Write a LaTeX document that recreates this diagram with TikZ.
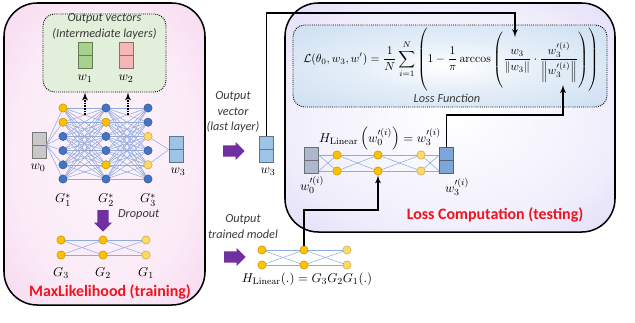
\documentclass[tikz,border=0pt]{standalone}
\usepackage{amsmath}
\usepackage[no-math]{fontspec}
\setmainfont{Carlito}
\usetikzlibrary{arrows,positioning,shapes.arrows}

\definecolor{nodeorange}{HTML}{FFC000}
\definecolor{nodeblue}{HTML}{4472C4}
\definecolor{nodeyellow}{HTML}{FFD966}
\definecolor{edgeblue}{HTML}{8FAADC}
\definecolor{pinkpanel}{HTML}{F3C6E8}
\definecolor{lilacpanel}{HTML}{CFC6F3}
\definecolor{lossblue}{HTML}{BDD5EE}
\definecolor{greenbox}{HTML}{E2EFDA}
\definecolor{vecgreen}{HTML}{A9D18E}
\definecolor{vecred}{HTML}{F4B6B6}
\definecolor{vecgray}{HTML}{C8C8C8}
\definecolor{vecslate}{HTML}{ADB9CA}
\definecolor{vecblue}{HTML}{9DC3E6}
\definecolor{vecdeep}{HTML}{7FA6D8}
\definecolor{dropviolet}{HTML}{7030A0}
\definecolor{notegray}{HTML}{3A3A3A}
\definecolor{titlered}{HTML}{F0141E}

\pgfdeclareradialshading{pinkglow}{\pgfpoint{0bp}{0bp}}{color(0bp)=(white!80!pinkpanel); color(22bp)=(white!65!pinkpanel); color(50bp)=(pinkpanel); color(71bp)=(pinkpanel)}
\pgfdeclareradialshading{lilacglow}{\pgfpoint{0bp}{0bp}}{color(0bp)=(white); color(25bp)=(white!70!lilacpanel); color(50bp)=(lilacpanel); color(71bp)=(lilacpanel)}
\pgfdeclareradialshading{blueglow}{\pgfpoint{0bp}{0bp}}{color(0bp)=(white); color(15bp)=(white!60!lossblue); color(50bp)=(lossblue); color(71bp)=(lossblue)}

\begin{document}
\begin{tikzpicture}[x=0.03cm, y=-0.03cm]
\tikzset{
   panel/.style={rectangle, rounded corners=1cm, draw=black, line width=1.3pt, inner sep=0pt},
   dotbox/.style={rectangle, rounded corners=0.35cm, draw=black, densely dotted, thick, inner sep=0pt},
   neuron/.style={circle, draw=#1!75!black, fill=#1, inner sep=0pt, minimum size=0.25cm},
   synapse/.style={draw=edgeblue, line width=0.45pt},
   vecbox/.style={rectangle, draw=#1!60!black, fill=#1, inner sep=0pt, minimum width=0.42cm, minimum height=0.78cm},
   notetext/.style={font=\fontsize{10.5}{13.2}\selectfont\itshape, text=notegray, align=center},
   veclabel/.style={font=\fontsize{11}{13}\selectfont},
   boxtitle/.style={font=\fontsize{13.6}{16}\selectfont\bfseries, text=titlered},
   fatarrow/.style={single arrow, draw=none, fill=dropviolet, minimum height=0.65cm, inner xsep=0pt, inner ysep=0.165cm, single arrow head extend=0.1cm},
   link/.style={->, >=latex', line width=1.3pt, black},
}
\useasboundingbox (0,0) rectangle (635,322);

% the two big panels
\node[panel, minimum width=6.03cm, minimum height=9.06cm, shading=pinkglow] (train) at (104.5,154) {};
\node[panel, minimum width=9.9cm, minimum height=6.87cm, shading=lilacglow] (test) at (450,117.5) {};

% intermediate outputs
\node[dotbox, minimum width=3.69cm, minimum height=2.34cm, fill=greenbox] (outbox) at (104.5,53) {};
\node[notetext] (outtxt) at (104.5,26.5) {Output vectors\\(Intermediate layers)};
\node[vecbox=vecgreen] (w1) at (85,55.5) {};
\draw[vecgreen!60!black] (w1.west) -- (w1.east);
\node[vecbox=vecred] (w2) at (126,55.5) {};
\draw[vecred!60!black] (w2.west) -- (w2.east);
\node[veclabel] (w1lab) at (85,79) {$w_1$};
\node[veclabel] (w2lab) at (126,79) {$w_2$};

% full network
\node[vecbox=vecgray] (w0) at (39,145) {};
\draw[vecgray!60!black] (w0.west) -- (w0.east);
\node[vecbox=vecblue] (w3) at (176,149.5) {};
\draw[vecblue!60!black] (w3.west) -- (w3.east);
\node[veclabel] (w0lab) at (38,168) {$w_0$};
\node[veclabel] (w3lab) at (178,172) {$w_3$};

\foreach \r/\ca/\cb/\cc in {1/nodeorange/nodeblue/nodeblue, 2/nodeorange/nodeorange/nodeblue,
   3/nodeblue/nodeblue/nodeyellow, 4/nodeblue/nodeblue/nodeblue,
   5/nodeblue/nodeorange/nodeyellow, 6/nodeblue/nodeblue/nodeblue}{
   \node[neuron=\ca] (a\r) at (63,{108+14.2*(\r-1)}) {};
   \node[neuron=\cb] (b\r) at (106,{108+14.2*(\r-1)}) {};
   \node[neuron=\cc] (c\r) at (148,{108+14.2*(\r-1)}) {};
}
\foreach \i in {1,...,6}{
   \draw[synapse] (w0.east) -- (a\i);
   \foreach \j in {1,...,6}{
      \draw[synapse] (a\i) -- (b\j);
      \draw[synapse] (b\i) -- (c\j);
   }
}
\draw[synapse] (c3) -- (w3.west);
\draw[synapse] (c5) -- (w3.west);

\coordinate (d1) at (85,115);
\coordinate (d2) at (128,115);
\draw[densely dotted, line width=1.3pt, ->, >=latex'] (d1) -- (d1 |- outbox.south);
\draw[densely dotted, line width=1.3pt, ->, >=latex'] (d2) -- (d2 |- outbox.south);

\node[veclabel] (g1s) at (63,200) {$G_1^*$};
\node[veclabel] (g2s) at (106,200) {$G_2^*$};
\node[veclabel] (g3s) at (148,200) {$G_3^*$};

% dropout
\node[fatarrow, rotate=-90] (drop) at (103,218) {};
\node[notetext, anchor=west] (droptxt) at (114,215) {Dropout};

\foreach \r/\y in {1/240,2/255}{
   \node[neuron=nodeorange] (p1\r) at (61,\y) {};
   \node[neuron=nodeorange] (p2\r) at (103,\y) {};
   \node[neuron=nodeyellow] (p3\r) at (146,\y) {};
}
\foreach \i in {1,2}{
   \foreach \j in {1,2}{
      \draw[synapse] (p1\i) -- (p2\j);
      \draw[synapse] (p2\i) -- (p3\j);
   }
}
\node[veclabel] (g3) at (61,273) {$G_3$};
\node[veclabel] (g2) at (103,273) {$G_2$};
\node[veclabel] (g1) at (146,273) {$G_1$};
\node[boxtitle] (traintitle) at (110,292) {MaxLikelihood (training)};

% middle column
\node[notetext] (lasttxt) at (233,112) {Output\\vector\\(last layer)};
\node[fatarrow] (tovec) at (231,151) {};
\node[vecbox=vecblue] (w3m) at (266.5,149.5) {};
\draw[vecblue!60!black] (w3m.west) -- (w3m.east);
\node[veclabel] (w3mlab) at (268,172) {$w_3$};

\node[notetext] (modeltxt) at (243,226.5) {Output\\trained model};
\node[fatarrow] (tomodel) at (232,257) {};
\foreach \r/\y in {1/250,2/265}{
   \node[neuron=nodeorange] (q1\r) at (262,\y) {};
   \node[neuron=nodeorange] (q2\r) at (304,\y) {};
   \node[neuron=nodeyellow] (q3\r) at (347,\y) {};
}
\foreach \i in {1,2}{
   \foreach \j in {1,2}{
      \draw[synapse] (q1\i) -- (q2\j);
      \draw[synapse] (q2\i) -- (q3\j);
   }
}
\node[veclabel] (hlin) at (307,279) {$H_{\mathrm{Linear}}(.) = G_3G_2G_1(.)$};

% loss function
\node[dotbox, minimum width=9.42cm, minimum height=2.46cm, shading=blueglow] (lossbox) at (450,66) {};
\node[font=\fontsize{10}{12}\selectfont] (formula) at (451,60)
   {$\displaystyle\mathcal{L}(\theta_0,w_3,w')=\frac{1}{N}\sum_{i=1}^{N}\left(\rule[-25pt]{0pt}{54pt}1-\frac{1}{\pi}\arccos\left(\rule[-21pt]{0pt}{47pt}\frac{w_3}{\lVert w_3\rVert}\cdot\frac{w_3'^{(i)}}{\left\lVert w_3'^{(i)}\right\rVert}\right)\right)$};
\node[notetext] (losstxt) at (447,98) {Loss Function};

% testing network
\node[vecbox=vecslate] (w0t) at (311.5,160.5) {};
\draw[vecslate!60!black] (w0t.west) -- (w0t.east);
\node[vecbox=vecdeep] (w3t) at (446.5,160.5) {};
\draw[vecdeep!60!black] (w3t.west) -- (w3t.east);
\foreach \r/\y in {1/155,2/171}{
   \node[neuron=nodeorange] (t1\r) at (337,\y) {};
   \node[neuron=nodeorange] (t2\r) at (378,\y) {};
   \node[neuron=nodeyellow] (t3\r) at (421,\y) {};
}
\foreach \i in {1,2}{
   \foreach \j in {1,2}{
      \draw[synapse] (w0t.east |- t1\i) -- (t1\j);
      \draw[synapse] (t1\i) -- (t2\j);
      \draw[synapse] (t2\i) -- (t3\j);
      \draw[synapse] (t3\i) -- (w3t.west |- t3\j);
   }
}
\node[veclabel] (htest) at (380,139) {$H_{\mathrm{Linear}}\left(w_0'^{(i)}\right) = w_3'^{(i)}$};
\node[veclabel] (w0tlab) at (312,185) {$w_0'^{(i)}$};
\node[veclabel] (w3tlab) at (457,187) {$w_3'^{(i)}$};
\node[boxtitle] (testtitle) at (495,215) {Loss Computation (testing)};

% connectors into the loss
\coordinate (topturn) at (515,13);
\coordinate (numw) at (515,37);
\draw[link] (w3m.north) |- (topturn) -- (numw);
\coordinate (sideturn) at (563,115);
\coordinate (denw) at (563,85);
\draw[link] (w3t.north) |- (sideturn) -- (denw);
\coordinate (lowturn) at (378,210);
\draw[link] (q21.north) |- (lowturn) -- (t22.south);

\end{tikzpicture}
\end{document}
